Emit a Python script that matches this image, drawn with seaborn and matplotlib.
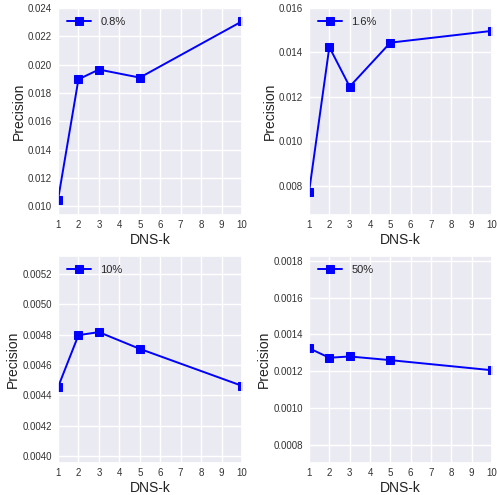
import matplotlib
matplotlib.use("Agg")
import matplotlib.pyplot as plt
import seaborn as sns
import pandas as pd

k_values = [1, 2, 3, 5, 10]
prec_08 = [0.01047, 0.01897, 0.01966, 0.01909, 0.02306]
prec_16 = [0.00770, 0.01424, 0.01246, 0.01444, 0.01497]
prec_10 = [0.004454, 0.004796, 0.004816, 0.004706, 0.004463]
prec_50 = [0.001325, 0.001273, 0.001280, 0.001260, 0.001205]
labels = ["0.8%", "1.6%", "10%", "50%"]
series = [prec_08, prec_16, prec_10, prec_50]
ylims = [(0.0094, 0.0240), (0.00668, 0.0160), (0.003956, 0.005316), (0.00070, 0.001827)]
xticks = [1, 2, 3, 4, 5, 6, 7, 8, 9, 10]

sns.set_theme(style="darkgrid")
plt.rcParams['font.family'] = ['Liberation Sans', 'DejaVu Sans']

W, H = 497, 495
fig = plt.figure(figsize=(W / 100, H / 100), dpi=100)
boxes = [(58, 8, 242, 215), (309, 8, 492, 215), (58, 256, 242, 463), (309, 256, 492, 463)]

for (l, t, r, b), lab, vals, yl in zip(boxes, labels, series, ylims):
    ax = fig.add_axes([l / W, 1 - b / H, (r - l) / W, (b - t) / H])
    df = pd.DataFrame({"DNS-k": k_values, "Precision": vals})
    sns.lineplot(data=df, x="DNS-k", y="Precision", ax=ax, color="blue",
                 marker="s", markersize=5.5, markeredgecolor="blue",
                 linewidth=1.4, label=lab)
    ax.set_xlim(1, 10)
    ax.set_ylim(*yl)
    ax.set_xticks(xticks)
    ax.tick_params(axis="x", length=0, labelsize=7, pad=3.5, colors="#333333")
    ax.tick_params(axis="y", length=0, labelsize=7, pad=4.3, colors="#333333")
    ax.set_xlabel("DNS-k", fontsize=10, labelpad=2, color="#222222")
    ax.set_ylabel("Precision", fontsize=10, labelpad=1.5, color="#222222")
    leg = ax.legend(loc="upper left", frameon=False, fontsize=8, handlelength=2.2,
                    borderaxespad=0.4)

fig.savefig("out.png", dpi=100)
